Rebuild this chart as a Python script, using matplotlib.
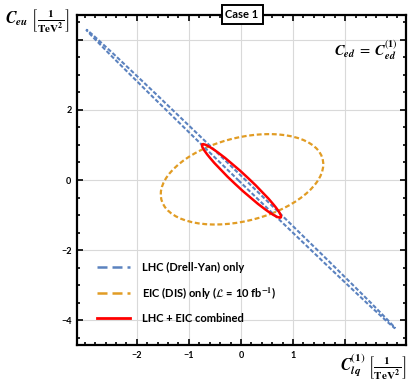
import numpy as np
import matplotlib.pyplot as plt
from matplotlib.patches import Ellipse
from matplotlib.lines import Line2D
from matplotlib.ticker import MultipleLocator

plt.rcParams['mathtext.fontset'] = 'stix'
plt.rcParams['font.family'] = ['Lato', 'DejaVu Sans']

# contours (data units)
lhc_ends = [(-2.97, 4.29), (2.96, -4.23)]   # tips of the thin LHC ellipse
lhc_halfwidth = 0.058
comb_ends = [(-0.74, 1.02), (0.76, -1.07)]  # tips of the combined ellipse
comb_halfwidth = 0.15
eic_center = (0.02, 0.02)
eic_axes = (1.68, 1.13)                     # semi-axes
eic_angle = 30.0

xticks = [-2, -1, 0, 1, 2]
xticklabels = ['\u22122', '\u22121', '0', '1', '']
yticks = [-4, -2, 0, 2, 4]
yticklabels = ['\u22124', '\u22122', '0', '2', '']

blue = '#5B82BF'
orange = '#E19C24'
red = '#FF0000'


def thin_ellipse(ends, halfwidth, **kw):
    (x0, y0), (x1, y1) = ends
    cx, cy = (x0 + x1) / 2, (y0 + y1) / 2
    length = np.hypot(x1 - x0, y1 - y0)
    ang = np.degrees(np.arctan2(y1 - y0, x1 - x0))
    return Ellipse((cx, cy), length, 2 * halfwidth, angle=ang, fill=False, **kw)


fig = plt.figure(figsize=(4.16, 3.83), dpi=100)
ax = fig.add_axes([0.185, 0.099, 0.791, 0.862])

ax.add_patch(Ellipse(eic_center, 2 * eic_axes[0], 2 * eic_axes[1], angle=eic_angle,
                     fill=False, ec=orange, lw=1.6, ls=(0, (2.2, 1.2))))
ax.add_patch(thin_ellipse(lhc_ends, lhc_halfwidth, ec=blue, lw=1.5, ls=(0, (2, 1))))
ax.add_patch(thin_ellipse(comb_ends, comb_halfwidth, ec=red, lw=1.8))

ax.set_xlim(-3.15, 3.17)
ax.set_ylim(-4.71, 4.71)
ax.set_xticks(xticks)
ax.set_xticklabels(xticklabels)
ax.set_yticks(yticks)
ax.set_yticklabels(yticklabels)
ax.xaxis.set_minor_locator(MultipleLocator(0.2))
ax.yaxis.set_minor_locator(MultipleLocator(0.5))
ax.tick_params(which='both', direction='in', top=True, right=True, width=1.2,
               labelsize=6.5, pad=4)
ax.tick_params(which='major', length=4.5)
ax.tick_params(which='minor', length=2.2)
for lab in ax.get_xticklabels() + ax.get_yticklabels():
    lab.set_fontweight('bold')
for s in ax.spines.values():
    s.set_linewidth(1.6)
ax.grid(True, which='major', color='#d9d9d9', lw=0.8)
ax.set_axisbelow(True)

ax.text(0.976, 0.894, r'$\mathbfit{C}_{\mathbfit{ed}}\;=\;\mathbfit{C}_{\mathbfit{ed}}^{(\mathbf{1})}$',
        transform=ax.transAxes, ha='right', va='center', fontsize=10.5)

fig.text(0.012, 0.945, r'$\mathbfit{C}_{\mathbfit{eu}}\ \left[\frac{\mathbf{1}}{\mathbf{TeV}^{\mathbf{2}}}\right]$',
         ha='left', va='center', fontsize=11.5)
fig.text(0.976, 0.04, r'$\mathbfit{C}_{\mathbfit{lq}}^{(\mathbf{1})}\ \left[\frac{\mathbf{1}}{\mathbf{TeV}^{\mathbf{2}}}\right]$',
         ha='right', va='center', fontsize=11.5)

fig.text(0.582, 0.962, 'Case 1', ha='center', va='center', fontsize=8, fontweight='bold',
         bbox=dict(boxstyle='square,pad=0.35', fc='white', ec='black', lw=1.4))

handles = [Line2D([], [], color=blue, lw=1.8, ls=(0, (4, 2))),
           Line2D([], [], color=orange, lw=1.8, ls=(0, (4, 2))),
           Line2D([], [], color=red, lw=2)]
labels = ['LHC (Drell-Yan) only',
          r'EIC (DIS) only ($\mathcal{L}$ = 10 fb$^{\mathbf{-1}}$)',
          'LHC + EIC combined']
leg = ax.legend(handles, labels, loc='lower left', bbox_to_anchor=(0.03, 0.035),
                frameon=False, fontsize=8, handlelength=3.0, handletextpad=1.1,
                labelspacing=1.05)
for t in leg.get_texts():
    t.set_fontweight('bold')

fig.savefig('out.png', dpi=100)
